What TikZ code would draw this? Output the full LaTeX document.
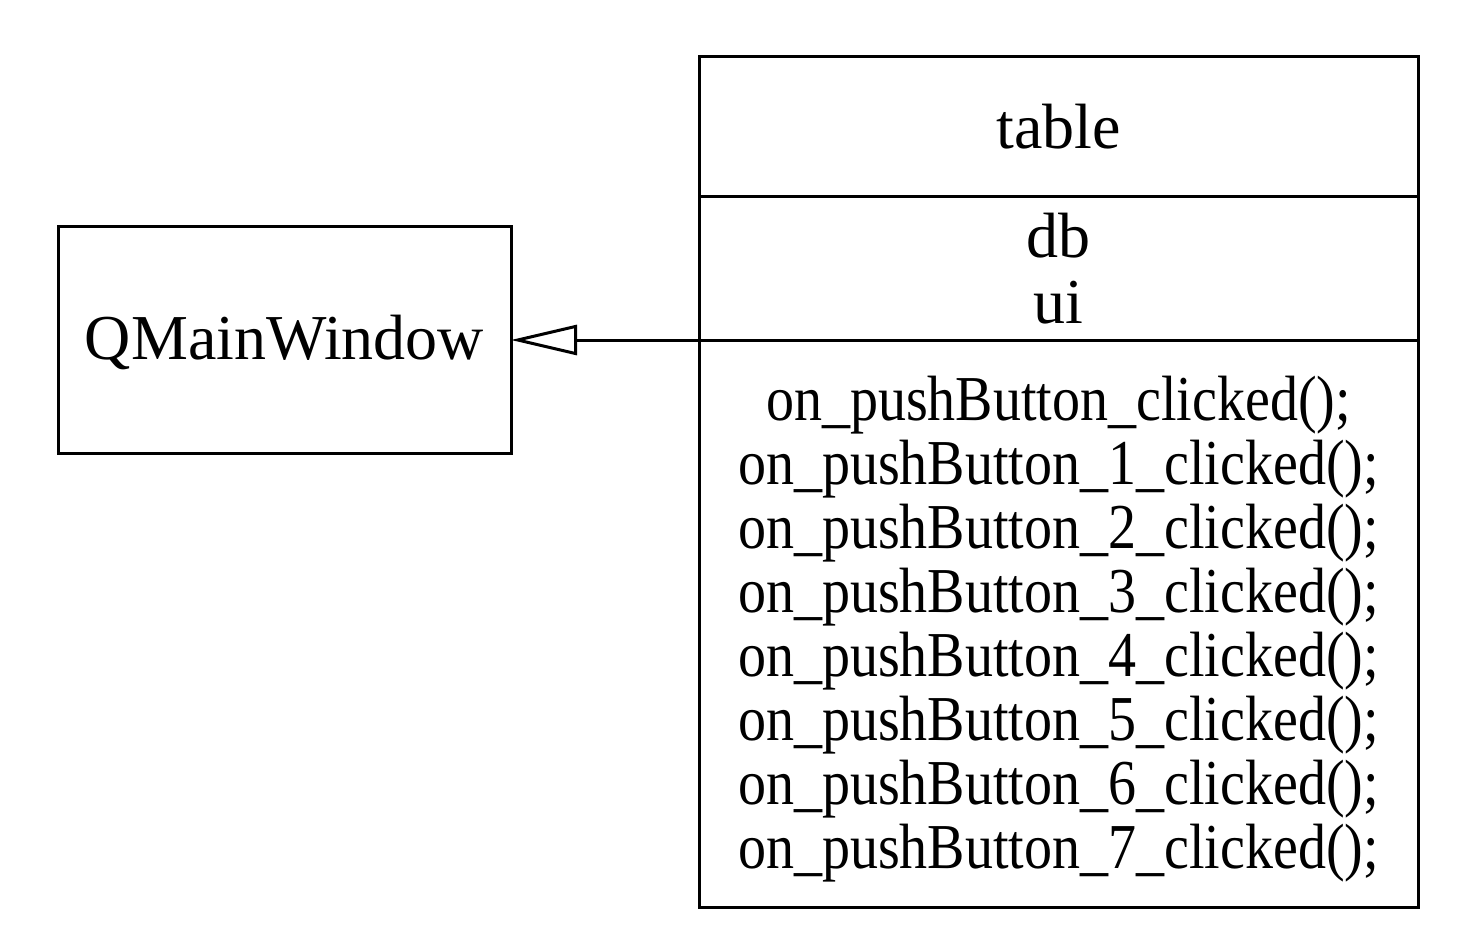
\documentclass[tikz,border=0pt]{standalone}
\usepackage{fontspec}
\setmainfont{Liberation Serif}
\newfontfamily\narrowserif[FakeStretch=0.875]{Liberation Serif}
\usetikzlibrary{positioning,arrows.meta}

\begin{document}
\begin{tikzpicture}[x=0.5pt,y=-0.5pt,
    classbox/.style={draw, line width=1.5pt, outer sep=0pt, inner sep=0pt,
                     font=\fontsize{32}{33}\selectfont, align=center},
    inherit/.style={line width=1.5pt, -{Triangle[open, length=33pt, width=15pt]}}]
    \useasboundingbox (0,0) rectangle (1472,952);

    % Base class
    \node[classbox, minimum width=226.5pt, minimum height=113pt] (main) at (284.5,340) {\rule{0pt}{25pt}QMainWindow};

    % Class table
    \node[classbox, minimum width=359.5pt, minimum height=70pt] (title) at (1058.5,127) {table};
    \node[classbox, minimum width=359.5pt, minimum height=71.5pt, below=0pt of title] (attrs) {db\\ui};
    \node[classbox, minimum width=359.5pt, minimum height=283.5pt, below=0pt of attrs,
          font=\narrowserif\fontsize{32}{32}\selectfont] (methods)
        {\rule{0pt}{28pt}on\_pushButton\_clicked();\\
         on\_pushButton\_1\_clicked();\\
         on\_pushButton\_2\_clicked();\\
         on\_pushButton\_3\_clicked();\\
         on\_pushButton\_4\_clicked();\\
         on\_pushButton\_5\_clicked();\\
         on\_pushButton\_6\_clicked();\\
         on\_pushButton\_7\_clicked();};

    % Inheritance
    \draw[inherit] (methods.north west) -- (main.east);
\end{tikzpicture}
\end{document}
